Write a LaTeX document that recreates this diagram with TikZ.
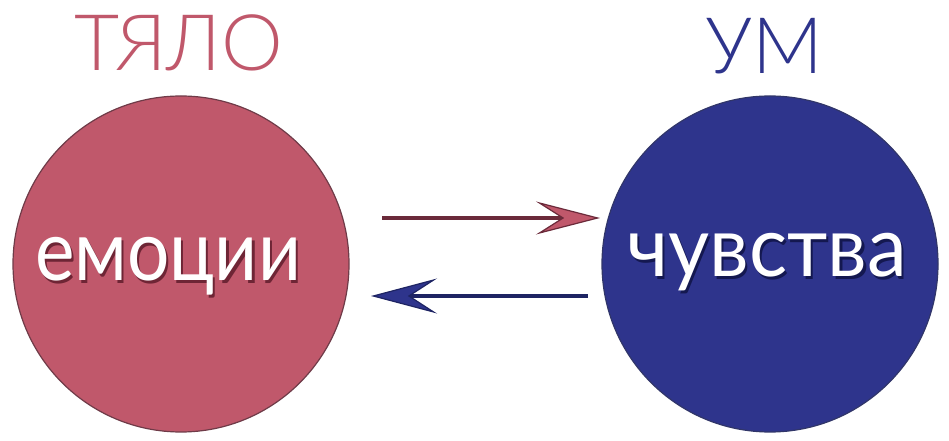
\documentclass[tikz,border=0pt]{standalone}
\usepackage{fontspec}
\setmainfont{Lato}
\newfontfamily\thinfont{Lato}[UprightFont=* Light]
\usetikzlibrary{arrows.meta}
\definecolor{rosefill}{HTML}{C0586B}
\definecolor{roseline}{HTML}{6B2A3A}
\definecolor{bluefill}{HTML}{2E348C}
\definecolor{blueline}{HTML}{1E2463}
\definecolor{roseshade}{HTML}{6E2535}
\definecolor{blueshade}{HTML}{141850}
\newcommand{\shadowtext}[3]{\scalebox{#3}[1]{\rlap{\kern2.5pt\raisebox{-3pt}{\textcolor{#2}{#1}}}\textcolor{white}{#1}}}
\tikzset{
  bigcircle/.style={circle,minimum size=336pt,inner sep=0pt,line width=1.2pt},
  title/.style={font=\thinfont\fontsize{78}{78}\selectfont,inner sep=0pt},
  inner/.style={font=\fontsize{84}{84}\selectfont,inner sep=0pt},
  arrowline/.style={line width=4pt},
}
\begin{document}
\begin{tikzpicture}[x=1pt,y=1pt]
\useasboundingbox (0,0) rectangle (949,441);
% circles
\node[bigcircle,fill=rosefill,draw=roseline!80!gray] (L) at (181,177) {};
\node[bigcircle,fill=bluefill,draw=blueline!80!gray] (R) at (770,177) {};
% titles
\node[title,text=rosefill] (tL) at (179,398) {ТЯЛО};
\node[title,text=bluefill] (tR) at (764,395) {УМ};
% circle texts with shadow
\node[inner,anchor=base] (eL) at (168,160) {\shadowtext{емоции}{roseshade}{0.89}};
\node[inner,anchor=base] (eR) at (767,164) {\shadowtext{чувства}{blueshade}{0.95}};
% arrows
\coordinate (a1s) at (382,223);
\coordinate (a1e) at (600,223);
\coordinate (a2s) at (588,145);
\coordinate (a2e) at (371,145);
\draw[arrowline,draw=roseline,-{Stealth[length=64pt,width=33pt,inset=26pt,fill=rosefill,line width=1.2pt]}] (a1s) -- (a1e);
\draw[arrowline,draw=blueline,-{Stealth[length=66pt,width=35pt,inset=27pt,fill=bluefill,line width=1.2pt]}] (a2s) -- (a2e);
\end{tikzpicture}
\end{document}
